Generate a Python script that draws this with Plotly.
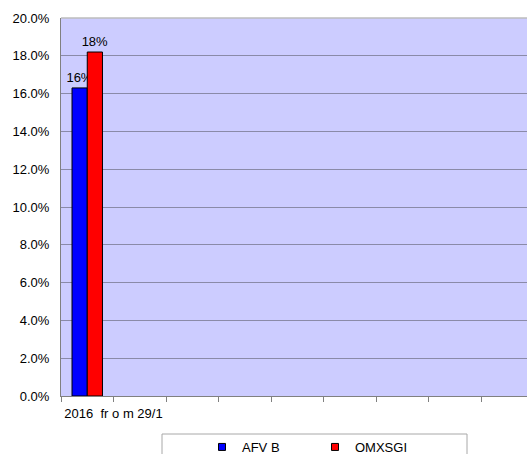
import plotly.graph_objects as go

categories = ["2016  fr o m 29/1", "", "", "", "", "", "", "", ""]
series_names = ["AFV B", "OMXSGI"]
afv_values = [0.163]
omx_values = [0.182]
colors = ["#0000FF", "#FF0000"]

W, H = 527, 454
L, R, T, B = 61, 0, 18, 58
plot_w = W - L - R
plot_h = H - T - B
cat_px = 52.5
x_max = -0.5 + plot_w / cat_px
FONT = "Liberation Sans, Arial"

fig = go.Figure()
bar_w = 0.29
for name, vals, col, off in [
    (series_names[0], afv_values, colors[0], -bar_w),
    (series_names[1], omx_values, colors[1], 0.0),
]:
    fig.add_trace(go.Bar(
        x=list(range(len(vals))), y=vals, name=name,
        width=bar_w, offset=off, showlegend=False, legendgroup=name,
        marker=dict(color=col, line=dict(color="black", width=1)),
        texttemplate="%{y:.0%}", textposition="outside",
        constraintext="none",
        textfont=dict(family=FONT, size=13, color="black"),
        cliponaxis=False,
    ))
    # legend entry with a small square swatch, as in the original
    fig.add_trace(go.Scatter(
        x=[None], y=[None], mode="markers", name=name, legendgroup=name,
        marker=dict(symbol="square", size=7, color=col,
                    line=dict(color="black", width=1)),
        showlegend=True,
    ))

boundaries = [i - 0.5 for i in range(len(categories) + 1)]
fig.update_layout(
    width=W, height=H,
    margin=dict(l=L, r=R, t=T, b=B, pad=0),
    paper_bgcolor="white", plot_bgcolor="#CCCCFF",
    font=dict(family=FONT, size=13, color="black"),
    barmode="overlay",
    xaxis=dict(
        range=[-0.5, x_max], tickmode="array", tickvals=boundaries,
        ticktext=[""] + categories, ticks="outside", ticklen=5,
        tickcolor="#808080", showgrid=False, zeroline=False,
        showline=True, linecolor="#808080", linewidth=1,
        tickfont=dict(size=13), automargin=False,
    ),
    yaxis=dict(
        range=[0, 0.2], dtick=0.02, tickformat=".1%",
        showgrid=True, gridcolor="#8A8AA8", gridwidth=1,
        zeroline=False, showline=True, linecolor="#808080", linewidth=1,
        ticks="", tickfont=dict(size=13), ticklabelstandoff=8,
        automargin=False,
    ),
    showlegend=True,
    legend=dict(
        orientation="h", xref="container", yref="container",
        x=202 / W, xanchor="left",
        y=1 - 447 / H, yanchor="middle",
        bgcolor="rgba(0,0,0,0)", borderwidth=0,
        entrywidth=68, entrywidthmode="pixels",
        font=dict(size=13), itemsizing="trace",
    ),
    shapes=[
        dict(type="rect", xref="paper", yref="paper",
             x0=(162 - L) / plot_w, x1=(467 - L) / plot_w,
             y0=-(434 - T - plot_h) / plot_h, y1=-(480 - T - plot_h) / plot_h,
             line=dict(color="#A8A8A8", width=1), fillcolor="rgba(0,0,0,0)"),
        dict(type="line", xref="paper", yref="paper", x0=0, x1=1, y0=1, y1=1,
             line=dict(color="#BDBDBD", width=1.5), layer="above"),
    ],
)

fig.write_html(
    "out.html",
    config={"displayModeBar": False},
    post_script="document.body.style.margin='0px';"
                "document.body.style.overflow='hidden';",
)
